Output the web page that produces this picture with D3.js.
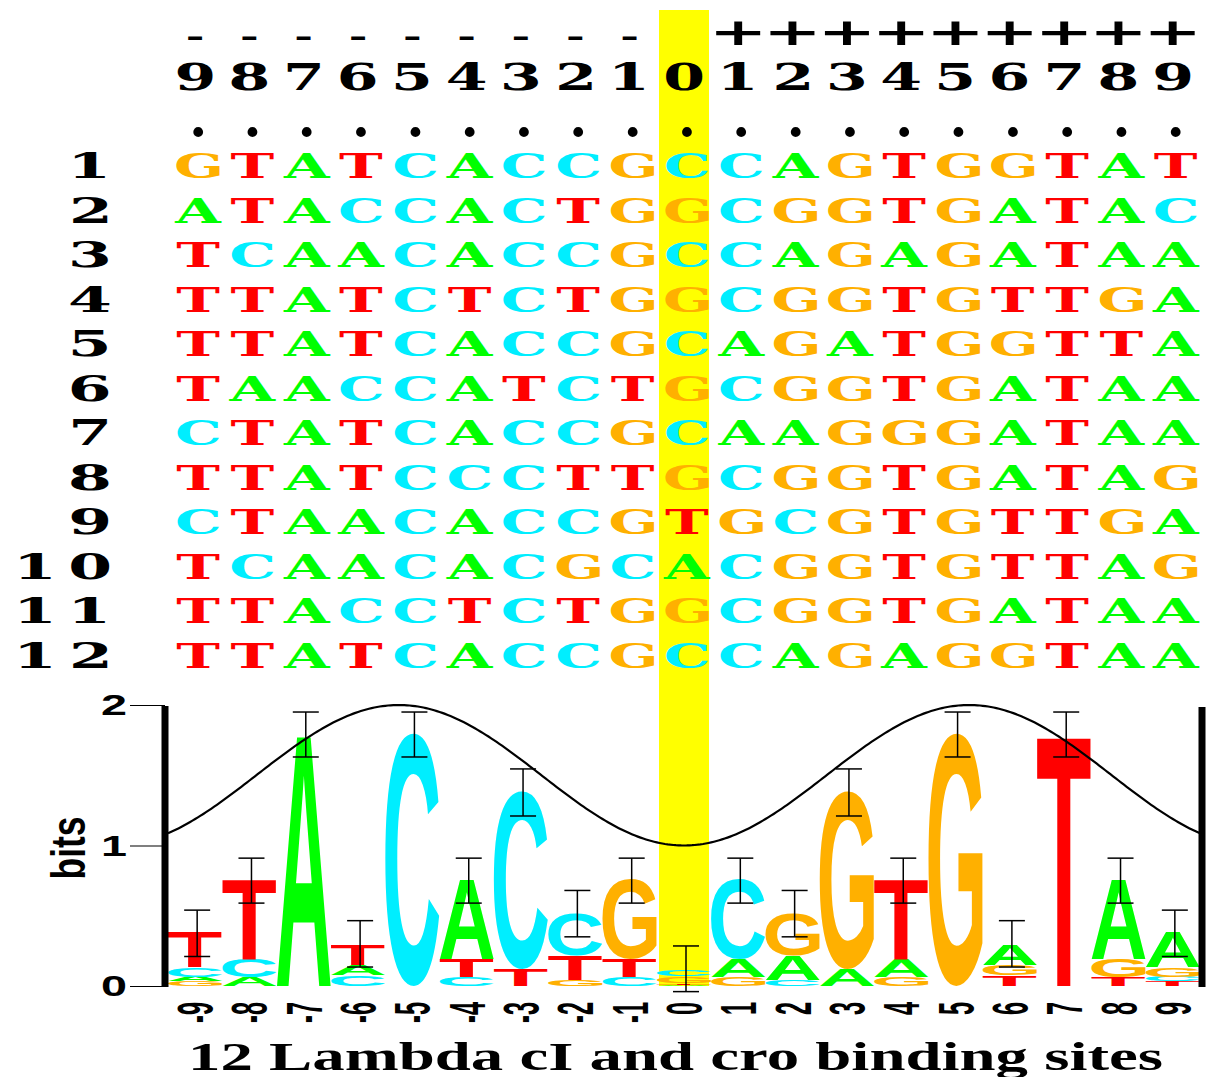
<!DOCTYPE html>
<html>
<head>
<meta charset="utf-8">
<script src="https://cdn.jsdelivr.net/npm/d3@7"></script>
<style>
  body { margin: 0; background: #fff; }
</style>
</head>
<body>
<svg id="chart"></svg>
<script>
// positions of the binding site, -9 .. +9
const positions = [-9, -8, -7, -6, -5, -4, -3, -2, -1, 0, 1, 2, 3, 4, 5, 6, 7, 8, 9];
const positionLabels = ["-9", "-8", "-7", "-6", "-5", "-4", "-3", "-2", "-1", "0",
                        "1", "2", "3", "4", "5", "6", "7", "8", "9"];
const signRow  = ["-", "-", "-", "-", "-", "-", "-", "-", "-", "", "+", "+", "+", "+", "+", "+", "+", "+", "+"];
const digitRow = ["9", "8", "7", "6", "5", "4", "3", "2", "1", "0", "1", "2", "3", "4", "5", "6", "7", "8", "9"];

const rowLabels = ["1", "2", "3", "4", "5", "6", "7", "8", "9", "10", "11", "12"];
const sequences = [
  "GTATCACCGCCAGTGGTAT",
  "ATACCACTGGCGGTGATAC",
  "TCAACACCGCCAGAGATAA",
  "TTATCTCTGGCGGTGTTGA",
  "TTATCACCGCAGATGGTTA",
  "TAACCATCTGCGGTGATAA",
  "CTATCACCGCAAGGGATAA",
  "TTATCCCTTGCGGTGATAG",
  "CTAACACCGTGCGTGTTGA",
  "TCAACACGCACGGTGTTAG",
  "TTACCTCTGGCGGTGATAA",
  "TTATCACCGCCAGAGGTAA"
];

// logo stacks, bottom to top, heights in bits
const stackLetters = [
  ["G", "A", "C", "T"], ["A", "C", "T"], ["A"], ["C", "A", "T"], ["C"],
  ["C", "T", "A"], ["T", "C"], ["G", "T", "C"], ["C", "T", "G"], ["A", "T", "G", "C"],
  ["G", "A", "C"], ["C", "A", "G"], ["A", "G"], ["G", "A", "T"], ["G"],
  ["T", "G", "A"], ["T"], ["T", "G", "A"], ["T", "C", "G", "A"]
];
const stackBits = [
  [0.033, 0.033, 0.067, 0.25], [0.063, 0.127, 0.57], [1.80], [0.075, 0.075, 0.15], [1.80],
  [0.063, 0.127, 0.57], [0.115, 1.27], [0.043, 0.173, 0.303], [0.063, 0.127, 0.57], [0.01, 0.01, 0.05, 0.05],
  [0.063, 0.127, 0.57], [0.043, 0.173, 0.303], [0.115, 1.27], [0.063, 0.127, 0.57], [1.80],
  [0.075, 0.075, 0.15], [1.79], [0.063, 0.127, 0.57], [0.033, 0.033, 0.067, 0.25]
];
const errHigh = [0.54, 0.91, 1.95, 0.465, 1.95, 0.91, 1.545, 0.68, 0.91, 0.285,
                 0.91, 0.68, 1.545, 0.91, 1.95, 0.465, 1.95, 0.91, 0.54];
const errLow  = [0.21, 0.59, 1.63, 0.135, 1.63, 0.59, 1.21, 0.35, 0.59, -0.04,
                 0.59, 0.35, 1.21, 0.59, 1.63, 0.135, 1.63, 0.59, 0.21];

// helix face curve (period in bases, range in bits)
const helixPeriod = 10.5;
const helixLow = 1.0, helixHigh = 2.0;
const bitTicks = [0, 1, 2];
const title = "12 Lambda cI and cro binding sites";

const baseColors = { A: "#00ff00", C: "#00eeff", G: "#ffb000", T: "#ff0000" };

const W = 1210, H = 1077;
const monoFont = "'DejaVu Serif', 'Liberation Serif', serif";
const sansFont = "'Liberation Sans', Arial, sans-serif";
const serifFont = "'Liberation Serif', 'Times New Roman', serif";

const svg = d3.select("#chart").attr("width", W).attr("height", H);

const x = d3.scaleBand().domain(positions).range([168, 1200]).padding(0);
const bw = x.bandwidth();
const cx = p => x(p) + bw / 2;
const y = d3.scaleLinear().domain([0, 2]).range([986, 705]);

// glyph metrics from a canvas
const ctx = document.createElement("canvas").getContext("2d");
function measure(ch, font) {
  ctx.font = font;
  const m = ctx.measureText(ch);
  return { l: m.actualBoundingBoxLeft, r: m.actualBoundingBoxRight,
           a: m.actualBoundingBoxAscent, d: m.actualBoundingBoxDescent };
}

// yellow highlight of position 0
svg.append("rect")
  .attr("x", cx(0) - 25).attr("y", 10)
  .attr("width", 50).attr("height", y(0) - 10)
  .attr("fill", "#ffff00");

// fixed-pitch rows (each glyph centred in its column)
const monoCss = `bold 100px ${monoFont}`;
const capH = measure("H", monoCss).a;
const mA = measure("A", monoCss);
const m8 = measure("8", monoCss);

function monoChar(ch, px, baseline, sx, sy, color) {
  const m = measure(ch, monoCss);
  const off = (m.l - m.r) / 2;   // centre the ink, not the advance
  svg.append("text")
    .attr("transform", `translate(${px + off * sx},${baseline}) scale(${sx},${sy})`)
    .style("font", monoCss)
    .attr("fill", color)
    .text(ch);
}

// sign row and number row
const dsx = 36 / (m8.l + m8.r), dsy = 28 / m8.a;
const mPlus = measure("+", monoCss);
const signBase = 33 + (mPlus.a - mPlus.d) / 2 * dsy;
positions.forEach((p, i) => {
  if (signRow[i] === "+") monoChar("+", cx(p), signBase, 45 / (mPlus.l + mPlus.r), dsy, "#000");
  if (signRow[i] === "-") monoChar("-", cx(p), signBase, dsx * 0.75, dsy * 0.7, "#000");
  monoChar(digitRow[i], cx(p), 90, dsx, dsy, "#000");
});

// sequence rows
const ssx = 47 / (mA.l + mA.r), ssy = 25 / capH;
const mDot = measure(".", monoCss);
const dotBase = 131 + (mDot.a - mDot.d) / 2 * ssy * 1.6;
positions.forEach(p => monoChar(".", cx(p) + 3, dotBase, ssx * 0.9, ssy * 1.6, "#000"));

const rowPitch = 44.5;
sequences.forEach((seq, r) => {
  const base = 178 + r * rowPitch;
  seq.split("").forEach((b, i) => monoChar(b, cx(positions[i]) + 3, base, ssx, ssy, baseColors[b]));
  const lab = rowLabels[r].split("").reverse();
  lab.forEach((d, k) => monoChar(d, 90 - k * 54.3, base, dsx * 1.05, ssy * 1.02, "#000"));
});

// logo letters, stretched to fill each box
const logoCss = `bold 100px ${sansFont}`;
const logoMetrics = {};
"ACGT".split("").forEach(b => { logoMetrics[b] = measure(b, logoCss); });

const logo = svg.append("g");
positions.forEach((p, i) => {
  let cum = 0;
  stackLetters[i].forEach((b, k) => {
    const h = stackBits[i][k];
    const top = y(cum + h), bot = y(cum);
    cum += h;
    const m = logoMetrics[b];
    const sx = bw / (m.l + m.r), sy = (bot - top) / (m.a + m.d);
    logo.append("text")
      .attr("transform", `translate(${x(p) + m.l * sx},${top + m.a * sy}) scale(${sx},${sy})`)
      .style("font", logoCss)
      .attr("fill", baseColors[b])
      .text(b);
  });
});

// error bars
const err = svg.append("g").attr("stroke", "#000").attr("stroke-width", 1.5);
positions.forEach((p, i) => {
  const ex = cx(p) + 2;
  err.append("line").attr("x1", ex).attr("x2", ex).attr("y1", y(errLow[i])).attr("y2", y(errHigh[i]));
  [errLow[i], errHigh[i]].forEach(v => {
    err.append("line").attr("x1", ex - 13).attr("x2", ex + 13).attr("y1", y(v)).attr("y2", y(v));
  });
});

// helix curve
const helixX = d3.scaleLinear().domain([-9.5, 9.5]).range([168, 1200]);
const helixPts = d3.range(-9.5, 9.5001, 0.05);
const helix = d3.line()
  .x(p => helixX(p))
  .y(p => y(helixLow + (helixHigh - helixLow) * (1 - Math.cos(2 * Math.PI * p / helixPeriod)) / 2));
svg.append("path").datum(helixPts)
  .attr("d", helix).attr("fill", "none").attr("stroke", "#000").attr("stroke-width", 2.2);

// y axis
const yAxis = svg.append("g")
  .attr("transform", "translate(165,0)")
  .call(d3.axisLeft(y).tickValues(bitTicks).tickSize(35).tickPadding(3).tickFormat(d3.format("d")));
yAxis.select(".domain").remove();
yAxis.selectAll(".tick line").attr("stroke", "#000").attr("stroke-width", 1.2);
yAxis.selectAll(".tick text")
  .style("font", `bold 30px ${sansFont}`)
  .attr("fill", "#000")
  .attr("textLength", 26).attr("lengthAdjust", "spacingAndGlyphs");

svg.append("line").attr("x1", 165).attr("x2", 165).attr("y1", 706).attr("y2", 987)
  .attr("stroke", "#000").attr("stroke-width", 7);
svg.append("line").attr("x1", 1202).attr("x2", 1202).attr("y1", 707).attr("y2", 987)
  .attr("stroke", "#000").attr("stroke-width", 7);

svg.append("text")
  .attr("transform", "translate(85,848) rotate(-90)")
  .attr("text-anchor", "middle")
  .style("font", `bold 48px ${sansFont}`)
  .attr("textLength", 63).attr("lengthAdjust", "spacingAndGlyphs")
  .text("bits");

// rotated position labels
positions.forEach((p, i) => {
  svg.append("text")
    .attr("transform", `translate(${cx(p) + 18},1002) rotate(-90) scale(0.47,1)`)
    .attr("text-anchor", "end")
    .style("font", `bold 50px ${sansFont}`)
    .text(positionLabels[i]);
});

svg.append("text")
  .attr("x", 188).attr("y", 1070)
  .style("font", `bold 40px ${serifFont}`)
  .attr("textLength", 975).attr("lengthAdjust", "spacingAndGlyphs")
  .text(title);
</script>
</body>
</html>
